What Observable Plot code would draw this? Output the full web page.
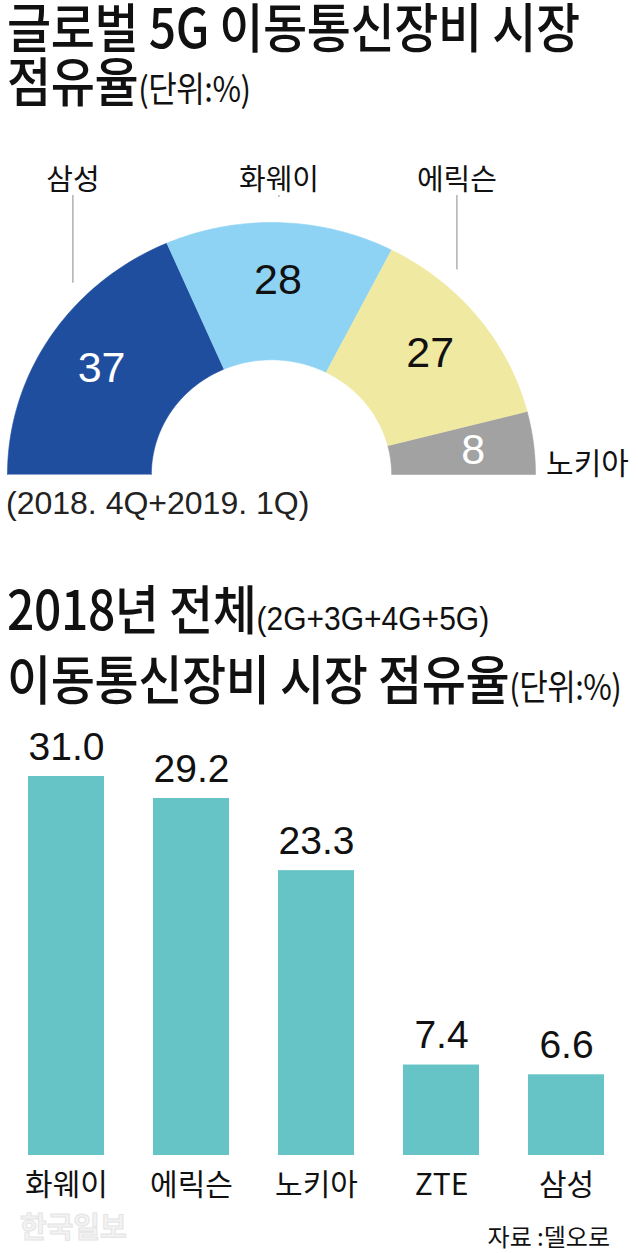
<!DOCTYPE html>
<html><head><meta charset="utf-8">
<script src="https://cdn.jsdelivr.net/npm/d3@7"></script>
<script src="https://cdn.jsdelivr.net/npm/@observablehq/plot@0.6"></script>
<style>
body{margin:0;background:#fff;font-family:"Noto Sans CJK KR",sans-serif;color:#111}
#wrap{position:relative;width:638px;height:1253px;overflow:hidden}
.t{position:absolute;left:7px;white-space:nowrap;font-size:48px;font-weight:500;line-height:52px;transform-origin:0 0;transform:scaleY(1.12);letter-spacing:-0.4px}
.s{font-size:31px;font-weight:400;letter-spacing:-0.5px}
.n{font-family:"Liberation Sans",Arial,sans-serif;font-size:30px;font-weight:400;letter-spacing:0}
.abs{position:absolute}
.note{font-family:"Liberation Sans",Arial,sans-serif;font-size:32px;line-height:1;white-space:nowrap;color:#222}
.wm{font-size:29px;font-weight:700;color:#f3f3f3;-webkit-text-stroke:1px #e4e4e4;line-height:1;white-space:nowrap}
.src{font-size:24px;line-height:1;white-space:nowrap}
</style></head>
<body><div id="wrap">
<div class="t" style="top:-2px;line-height:48px">글로벌 5G 이동통신장비 시장<br>점유율<span class="s">(단위:%)</span></div>
<div id="donut" class="abs" style="left:0;top:140px"></div>
<div class="abs note" style="left:6px;top:487px">(2018. 4Q+2019. 1Q)</div>
<div class="t" style="top:577px">2018년 전체<span class="n">(2G+3G+4G+5G)</span><br>이동통신장비 시장 점유율<span class="s">(단위:%)</span></div>
<div id="bars" class="abs" style="left:0;top:700px"></div>
<div class="abs wm" style="left:20px;top:1211px">한국일보</div>
<div class="abs src" style="right:28px;top:1224px">자료 :델오로</div>
</div>
<script>
// ---- data: 5G share (2018 4Q + 2019 1Q)
const donutCompanies = ["삼성", "화웨이", "에릭슨", "노키아"];
const donutShares = [37, 28, 27, 8];
const donutColors = ["#1f4e9f", "#8ed3f4", "#f0e9a2", "#a2a2a2"];
const donutValueColors = ["#ffffff", "#111111", "#111111", "#ffffff"];

// ---- data: 2018 total share
const barCompanies = ["화웨이", "에릭슨", "노키아", "ZTE", "삼성"];
const barShares = [31.0, 29.2, 23.3, 7.4, 6.6];

const latin = "'Liberation Sans',Arial,sans-serif";
const cjk = "'Noto Sans CJK KR',sans-serif";

// ---- donut geometry from data
const inner = 0.455;
const total = d3.sum(donutShares);
let acc = 0;
const slices = donutCompanies.map((c, i) => {
  const f0 = acc / total; acc += donutShares[i]; const f1 = acc / total;
  const a0 = Math.PI * (1 - f0), a1 = Math.PI * (1 - f1), am = (a0 + a1) / 2;
  return {company: c, value: donutShares[i], a0, a1, am, i};
});
const pts = [];
for (const s of slices) {
  const n = Math.max(8, Math.ceil((s.a0 - s.a1) / (Math.PI / 180)));
  for (let k = 0; k <= n; k++) { const a = s.a0 + (s.a1 - s.a0) * k / n; pts.push({company: s.company, x: Math.cos(a), y: Math.sin(a)}); }
  for (let k = n; k >= 0; k--) { const a = s.a0 + (s.a1 - s.a0) * k / n; pts.push({company: s.company, x: inner * Math.cos(a), y: inner * Math.sin(a)}); }
}
const labelR = 0.77;
const valueLabels = slices.map(s => ({text: String(s.value), x: labelR * Math.cos(s.am), y: labelR * Math.sin(s.am), color: donutValueColors[s.i]}));
const topSlices = slices.filter(s => s.am > Math.PI / 9);
const sideSlices = slices.filter(s => s.am <= Math.PI / 9);
const nameLabels = topSlices.map(s => ({text: s.company, x: 0.9 * Math.cos(s.am)}));
const leaders = topSlices.map(s => { const x = 0.9 * Math.cos(s.am); return {x, y1: 1.107, y2: Math.sqrt(1 - x * x) + 0.1}; });
const sideLabels = sideSlices.map(s => ({text: s.company}));

function squeeze(svg, label, sx) {
  d3.select(svg).selectAll(`g[aria-label="${label}"] text`).attr("transform", function () {
    return (this.getAttribute("transform") || "") + ` scale(${sx},1)`;
  });
}

const donut = Plot.plot({
  width: 638, height: 345, margin: 0,
  x: {domain: [-271 / 264, 367 / 264], axis: null},
  y: {domain: [-11 / 252, 334 / 252], axis: null},
  color: {domain: donutCompanies, range: donutColors},
  style: {fontFamily: latin, background: "transparent"},
  marks: [
    Plot.line(pts, {x: "x", y: "y", z: "company", fill: "company", stroke: "company", strokeWidth: 0.6, curve: "linear"}),
    Plot.text(valueLabels, {x: "x", y: "y", text: "text", fill: d => d.color, fontSize: 43, lineAnchor: "middle", ariaLabel: "values"}),
    Plot.ruleX(leaders, {x: "x", y1: "y1", y2: "y2", stroke: "#8a8a8a", strokeWidth: 1}),
    Plot.text(nameLabels, {x: "x", y: 1.167, text: "text", fontSize: 29, fill: "#111", fontFamily: cjk, lineAnchor: "middle"}),
    Plot.text(sideLabels, {x: 1.04, y: 0, text: "text", fontSize: 30, fill: "#111", fontFamily: cjk, textAnchor: "start", lineAnchor: "bottom", dy: -1})
  ]
});
squeeze(donut, "values", 0.78);
document.getElementById("donut").appendChild(donut);

// ---- bars
const barData = barCompanies.map((c, i) => ({company: c, share: barShares[i]}));
const bars = Plot.plot({
  width: 638, height: 520,
  marginTop: 76, marginBottom: 65, marginLeft: 1, marginRight: 8,
  x: {domain: barCompanies, paddingInner: 0.396, paddingOuter: 0.198, label: null, axis: null},
  y: {domain: [0, 31], axis: null},
  style: {fontFamily: latin, background: "transparent"},
  marks: [
    Plot.barY(barData, {x: "company", y: "share", fill: "#66c4c6"}),
    Plot.text(barData, {x: "company", y: "share", text: d => d.share.toFixed(1), dy: -17, lineAnchor: "bottom", fontSize: 39, fill: "#111", ariaLabel: "values"}),
    Plot.axisX({tickSize: 0, tickPadding: 18, fontSize: 30, label: null, fontFamily: cjk, color: "#111"})
  ]
});
squeeze(bars, "values", 0.88);
document.getElementById("bars").appendChild(bars);
</script>
</body></html>
